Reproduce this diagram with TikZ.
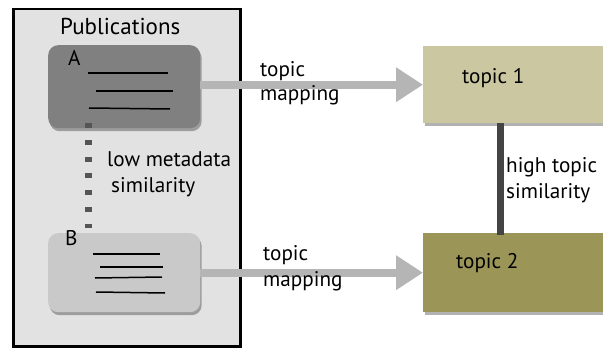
\documentclass[tikz,border=0pt]{standalone}
\usepackage{fontspec}
\setmainfont{PT Sans}
\usetikzlibrary{shadows,arrows.meta,calc}
\definecolor{pubbg}{HTML}{E2E2E2}
\definecolor{docA}{HTML}{808080}
\definecolor{docB}{HTML}{C9C9C9}
\definecolor{topicA}{HTML}{CBC7A1}
\definecolor{topicB}{HTML}{9B9658}
\definecolor{arrowgray}{HTML}{B5B5B5}
\definecolor{bargray}{HTML}{444444}
\definecolor{dotgray}{HTML}{555555}
\begin{document}
\begin{tikzpicture}[x=1pt,y=-1pt,
  font=\fontsize{21.2}{24}\selectfont,
  outerbox/.style={draw=black, line width=2.5pt, fill=pubbg, anchor=north west,
    minimum width=227pt, minimum height=337pt, inner sep=0pt},
  softshadow/.style={drop shadow={shadow xshift=1.5pt, shadow yshift=-3pt, opacity=0.3, fill=black}},
  docbox/.style={rounded corners=10pt, anchor=north west, minimum width=152pt,
    inner sep=0pt, softshadow},
  topicbox/.style={anchor=north west, minimum width=180pt, inner sep=0pt, softshadow},
  lbl/.style={anchor=base west, inner sep=0pt},
  docline/.style={line width=1.5pt, black},
  maparrow/.style={draw=arrowgray, line width=8pt, -{Triangle[length=27pt,width=33pt]}},
  dotline/.style={draw=dotgray, line width=7pt, dash pattern=on 5pt off 11.7pt},
  simbar/.style={draw=bargray, line width=7pt}
]
\useasboundingbox (0,0) rectangle (603,350);
% publications frame
\node[outerbox] (pub) at (12,8) {};
\node[lbl, font=\fontsize{23}{26}\selectfont] (pubt) at (60,35) {Publications};
% document boxes
\node[docbox, fill=docA, minimum height=83pt] (A) at (48,45) {};
\node[docbox, fill=docB, minimum height=79pt] (B) at (48,233) {};
\node[lbl] (la) at (68,66) {A};
\node[lbl] (lb) at (65,246) {B};
\draw[docline] (88,73) -- (168,73);
\draw[docline] (96,91) -- (173,91);
\draw[docline] (89,108) -- (170,109);
\draw[docline] (93,254) -- (160,254);
\draw[docline] (100,267) -- (163,267);
\draw[docline] (95,278) -- (162,277);
\draw[docline] (96,292) -- (165,293);
% low metadata similarity
\draw[dotline] ([xshift=40pt,yshift=5pt]A.south west) -- ([xshift=40pt,yshift=5pt]B.north west);
\node[lbl] (lm1) at (107,167) {low metadata};
\node[lbl] (lm2) at (111,193) {similarity};
% topic boxes
\node[topicbox, fill=topicA, minimum height=77pt] (t1) at (423,46) {};
\node[topicbox, fill=topicB, minimum height=79pt] (t2) at (423,233) {};
\node[lbl] (tt1) at (462,84) {topic 1};
\node[lbl] (tt2) at (456,268) {topic 2};
% mapping arrows
\draw[maparrow] (A.east |- t1.west) -- (t1.west);
\draw[maparrow] (B.east) -- (t2.west);
\node[lbl] (tm1a) at (260,77) {topic};
\node[lbl] (tm1b) at (260,101) {mapping};
\node[lbl] (tm2a) at (263,261) {topic};
\node[lbl] (tm2b) at (263,287) {mapping};
% high topic similarity
\draw[simbar] ([xshift=-12.5pt]t1.south) -- ([xshift=-12.5pt,yshift=-2pt]t2.north);
\node[lbl] (hs1) at (506,173) {high topic};
\node[lbl] (hs2) at (506,199) {similarity};
\end{tikzpicture}
\end{document}
